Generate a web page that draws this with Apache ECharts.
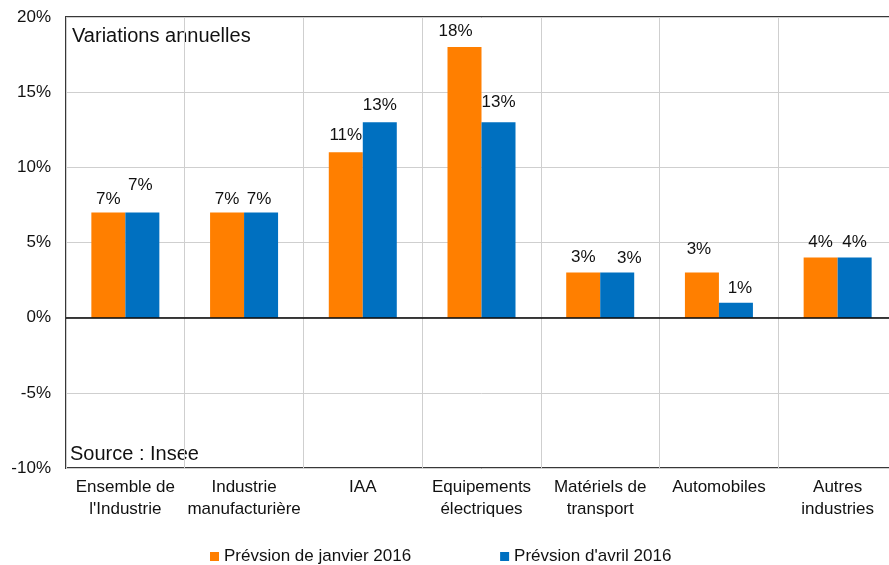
<!DOCTYPE html>
<html>
<head>
<meta charset="utf-8">
<script src="https://cdn.jsdelivr.net/npm/echarts@6/dist/echarts.min.js"></script>
<style>
  html, body { margin: 0; padding: 0; background: #fff; overflow: hidden; }
  /* plot runs a bit past the right edge of the window, as in the original crop */
  #main { width: 900px; height: 565px; }
</style>
</head>
<body>
<div id="main"></div>
<script>
// categories / values
var categories = ['Ensemble de\nl\'Industrie', 'Industrie\nmanufacturière', 'IAA', 'Equipements\nélectriques',
    'Matériels de\ntransport', 'Automobiles', 'Autres\nindustries'];
var janvier = [7, 7, 11, 18, 3, 3, 4];
var avril = [7, 7, 13, 13, 3, 1, 4];
var seriesNames = ['Prévsion de janvier 2016', 'Prévsion d\'avril 2016'];

// small nudges of the value labels (the original ones are not all aligned)
var janvierLabelShift = [[0, 2], [0, 2], [0, -1], [-9, 0], [0, 0], [-3, -8], [0, 0]];
var avrilLabelShift = [[-2, -12], [-2, 2], [0, -1], [0, -4], [12, 1], [4, 1], [0, 0]];

function withLabels(values, shifts) {
    return values.map(function (v, i) {
        return { value: v, label: { offset: shifts[i] } };
    });
}

var myChart = echarts.init(document.getElementById('main'));

var labelStyle = {
    show: true,
    position: 'top',
    distance: 7,
    fontSize: 17,
    color: '#111',
    fontFamily: 'Liberation Sans, Arial, sans-serif',
    formatter: '{c}%'
};

var option = {
    animation: false,
    textStyle: { fontFamily: 'Liberation Sans, Arial, sans-serif' },
    grid: {
        left: 66,
        top: 17,
        width: 831,
        height: 451,
        show: true,
        borderColor: '#383838',
        borderWidth: 2
    },
    legend: {
        data: seriesNames,
        left: 210,
        top: 548,
        padding: 0,
        itemWidth: 9,
        itemHeight: 9,
        itemGap: 89,
        icon: 'rect',
        textStyle: { fontSize: 17, color: '#111' }
    },
    xAxis: {
        type: 'category',
        data: categories,
        axisLine: { onZero: false, show: false },
        axisTick: { show: false },
        axisLabel: {
            margin: 8,
            fontSize: 17,
            lineHeight: 22,
            color: '#111',
            interval: 0
        },
        splitLine: { show: true, lineStyle: { color: '#cfcfcf', width: 1 } }
    },
    yAxis: {
        type: 'value',
        min: -10,
        max: 20,
        interval: 5,
        axisLine: { show: false },
        axisTick: { show: false },
        axisLabel: {
            margin: 15,
            fontSize: 17,
            color: '#111',
            padding: [4, 0, 0, 0],
            formatter: '{value}%'
        },
        splitLine: { show: true, lineStyle: { color: '#cfcfcf', width: 1 } }
    },
    graphic: [
        {
            type: 'text',
            left: 72,
            top: 26,
            style: { text: 'Variations annuelles', fontSize: 20, fill: '#111', fontFamily: 'Liberation Sans, Arial, sans-serif' }
        },
        {
            type: 'text',
            left: 70,
            top: 444,
            style: { text: 'Source : Insee', fontSize: 20, fill: '#111', fontFamily: 'Liberation Sans, Arial, sans-serif' }
        }
    ],
    series: [
        {
            name: seriesNames[0],
            type: 'bar',
            barWidth: 34,
            barGap: '0%',
            itemStyle: { color: '#FF7F00' },
            label: labelStyle,
            data: withLabels(janvier, janvierLabelShift),
            markLine: {
                silent: true,
                symbol: 'none',
                label: { show: false },
                lineStyle: { color: '#000', width: 1.5, type: 'solid' },
                data: [{ yAxis: 0 }]
            }
        },
        {
            name: seriesNames[1],
            type: 'bar',
            barWidth: 34,
            barGap: '0%',
            itemStyle: { color: '#0070C0' },
            label: labelStyle,
            data: withLabels(avril, avrilLabelShift)
        }
    ]
};

myChart.setOption(option);
</script>
</body>
</html>
